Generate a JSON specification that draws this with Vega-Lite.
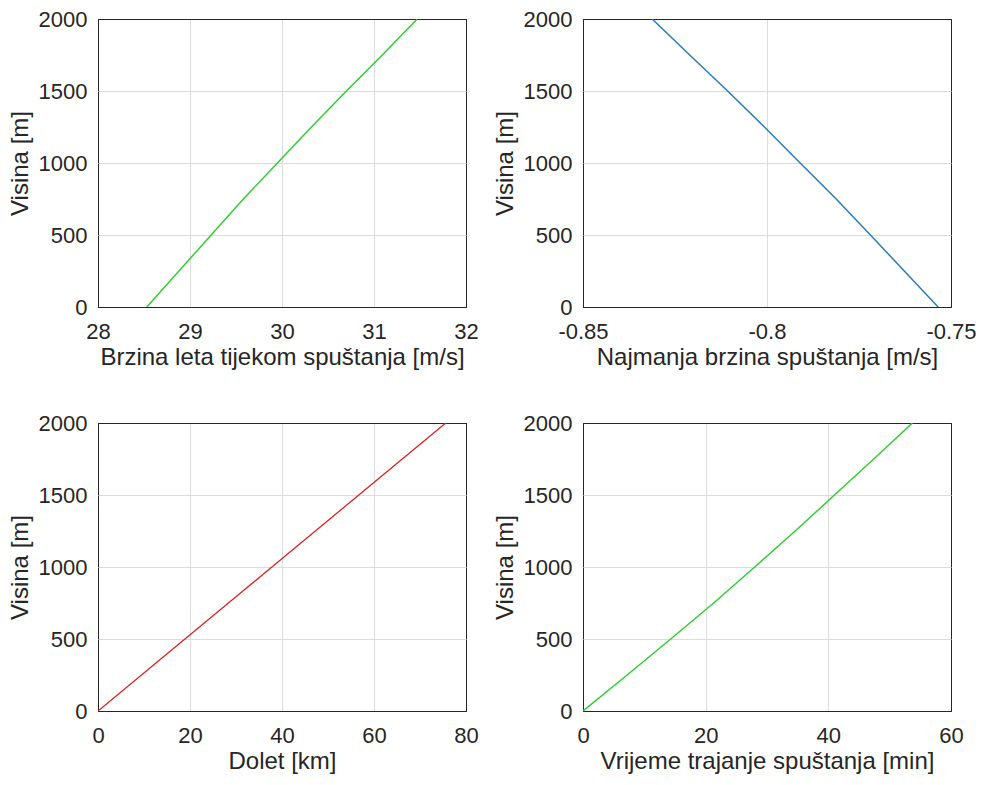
{
  "$schema": "https://vega.github.io/schema/vega-lite/v6.json",
  "background": "white",
  "padding": {"left": 7, "top": 7, "right": 5, "bottom": 5},
  "data": {"values": [
    {"h": 0, "v": 28.53, "w": -0.7535, "d": 0, "t": 0},
    {"h": 250, "v": 28.88, "w": -0.7627, "d": 9.45, "t": 7.2},
    {"h": 500, "v": 29.23, "w": -0.7719, "d": 18.9, "t": 14.3},
    {"h": 750, "v": 29.58, "w": -0.7812, "d": 28.35, "t": 21.3},
    {"h": 1000, "v": 29.95, "w": -0.791, "d": 37.8, "t": 28.0},
    {"h": 1250, "v": 30.32, "w": -0.8007, "d": 47.25, "t": 34.6},
    {"h": 1500, "v": 30.7, "w": -0.8107, "d": 56.7, "t": 41.0},
    {"h": 1750, "v": 31.09, "w": -0.821, "d": 66.15, "t": 47.4},
    {"h": 2000, "v": 31.47, "w": -0.8312, "d": 75.6, "t": 53.7}
  ]},
  "columns": 2,
  "bounds": "flush",
  "spacing": {"row": 116, "column": 117},
  "concat": [
    {
      "width": 368, "height": 288,
      "mark": {"type": "line", "color": "#33cc33", "strokeWidth": 1.5, "clip": true},
      "encoding": {
        "x": {"field": "v", "type": "quantitative", "title": "Brzina leta tijekom spuštanja [m/s]",
              "scale": {"domain": [28, 32], "nice": false, "zero": false},
              "axis": {"values": [28, 29, 30, 31, 32], "format": "d"}},
        "y": {"field": "h", "type": "quantitative", "title": "Visina [m]",
              "scale": {"domain": [0, 2000], "nice": false},
              "axis": {"values": [0, 500, 1000, 1500, 2000], "format": "d"}},
        "order": {"field": "h"}
      }
    },
    {
      "width": 368, "height": 288,
      "mark": {"type": "line", "color": "#2b7bb9", "strokeWidth": 1.5, "clip": true},
      "encoding": {
        "x": {"field": "w", "type": "quantitative", "title": "Najmanja brzina spuštanja [m/s]",
              "scale": {"domain": [-0.85, -0.75], "nice": false, "zero": false},
              "axis": {"values": [-0.85, -0.8, -0.75], "format": ".2~f", "labelExpr": "replace(datum.label, '−', '-')"}},
        "y": {"field": "h", "type": "quantitative", "title": "Visina [m]",
              "scale": {"domain": [0, 2000], "nice": false},
              "axis": {"values": [0, 500, 1000, 1500, 2000], "format": "d"}},
        "order": {"field": "h"}
      }
    },
    {
      "width": 368, "height": 288,
      "mark": {"type": "line", "color": "#d42424", "strokeWidth": 1.3, "clip": true},
      "encoding": {
        "x": {"field": "d", "type": "quantitative", "title": "Dolet [km]",
              "scale": {"domain": [0, 80], "nice": false},
              "axis": {"values": [0, 20, 40, 60, 80], "format": "d"}},
        "y": {"field": "h", "type": "quantitative", "title": "Visina [m]",
              "scale": {"domain": [0, 2000], "nice": false},
              "axis": {"values": [0, 500, 1000, 1500, 2000], "format": "d"}},
        "order": {"field": "h"}
      }
    },
    {
      "width": 368, "height": 288,
      "mark": {"type": "line", "color": "#33cc33", "strokeWidth": 1.5, "clip": true},
      "encoding": {
        "x": {"field": "t", "type": "quantitative", "title": "Vrijeme trajanje spuštanja [min]",
              "scale": {"domain": [0, 60], "nice": false},
              "axis": {"values": [0, 20, 40, 60], "format": "d"}},
        "y": {"field": "h", "type": "quantitative", "title": "Visina [m]",
              "scale": {"domain": [0, 2000], "nice": false},
              "axis": {"values": [0, 500, 1000, 1500, 2000], "format": "d"}},
        "order": {"field": "h"}
      }
    }
  ],
  "config": {
    "font": "Liberation Sans",
    "view": {"stroke": "#262626", "strokeWidth": 1},
    "axis": {
      "domain": false,
      "ticks": false,
      "grid": true,
      "gridColor": {"condition": {"test": "datum.index == 0 || datum.index == 1", "value": "#262626"}, "value": "#dcdcdc"},
      "gridWidth": 1,
      "labelFont": "Liberation Sans",
      "labelFontSize": 22,
      "labelColor": "#262626",
      "titleFont": "Liberation Sans",
      "titleFontSize": 24,
      "titleFontWeight": "normal",
      "titleColor": "#262626"
    },
    "axisX": {"labelPadding": 14, "titlePadding": 3, "labelFlush": false},
    "axisY": {"labelPadding": 11, "titlePadding": 6, "labelFlush": false}
  }
}
